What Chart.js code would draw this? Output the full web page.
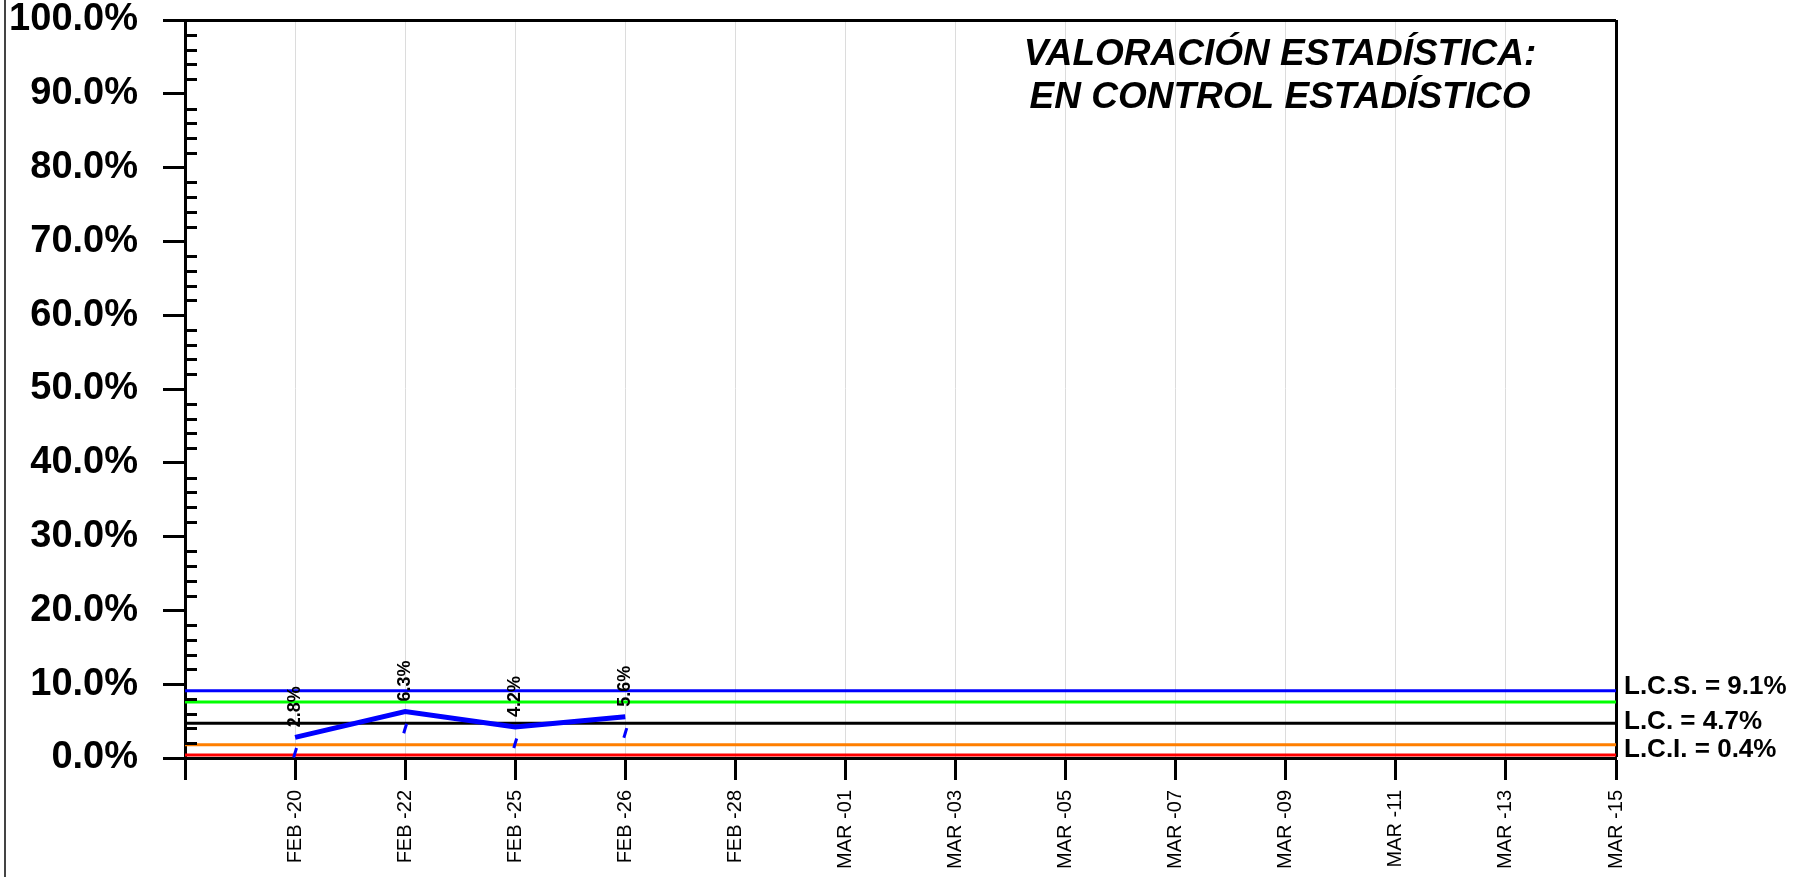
<!DOCTYPE html>
<html>
<head>
<meta charset="utf-8">
<script src="https://cdn.jsdelivr.net/npm/chart.js@4.4.1/dist/chart.umd.min.js"></script>
<style>
  html, body { margin: 0; padding: 0; background: #fff; }
  #wrap { width: 1804px; height: 877px; position: relative; }
</style>
</head>
<body>
<div id="wrap"><canvas id="chart"></canvas></div>
<script>
// Category slots on the x axis (first slot is left blank, like the original sheet)
const dates = ['', 'FEB -20', 'FEB -22', 'FEB -25', 'FEB -26', 'FEB -28', 'MAR -01', 'MAR -03',
               'MAR -05', 'MAR -07', 'MAR -09', 'MAR -11', 'MAR -13', 'MAR -15'];

// Measured percentages
const sampleDates = ['FEB -20', 'FEB -22', 'FEB -25', 'FEB -26'];
const sampleValues = [2.8, 6.3, 4.2, 5.6];
// small blue dash marks that sit under each point
const markValues = [0.7, 4.0, 2.0, 3.4];

// Control limits
const LCS = 9.1;
const upperWarn = 7.6;
const LC = 4.7;
const lowerWarn = 1.8;
const LCI = 0.4;

const yMin = 0;
const yMax = 100;
const yStep = 10;
const yMinorStep = 2;

const titleLines = ['VALORACIÓN ESTADÍSTICA:', 'EN CONTROL ESTADÍSTICO'];

const FONT = "'Liberation Sans', Arial, sans-serif";
const lastIdx = dates.length - 1;

// helper for a flat limit line across the whole axis
function limitLine(value, color) {
    return {
        type: 'line',
        data: [{ x: dates[0], y: value }, { x: dates[lastIdx], y: value }],
        borderColor: color,
        borderWidth: 3,
        pointRadius: 0,
        fill: false
    };
}

const extras = {
    id: 'extras',
    afterDraw(chart) {
        const { ctx, chartArea: a, scales: { y } } = chart;
        ctx.save();

        // page border on the far left
        ctx.strokeStyle = '#444';
        ctx.lineWidth = 2;
        ctx.beginPath();
        ctx.moveTo(5, 0);
        ctx.lineTo(5, chart.height);
        ctx.stroke();

        // minor ticks inside the y axis
        ctx.strokeStyle = '#000';
        ctx.lineWidth = 3;
        for (let v = yMin + yMinorStep; v < yMax; v += yMinorStep) {
            if (v % yStep === 0) continue;
            const py = Math.round(y.getPixelForValue(v)) + 0.5;
            ctx.beginPath();
            ctx.moveTo(a.left, py);
            ctx.lineTo(a.left + 12, py);
            ctx.stroke();
        }

        // value labels above the points, rotated
        const meta = chart.getDatasetMeta(0);
        ctx.fillStyle = '#000';
        ctx.font = `bold 18px ${FONT}`;
        ctx.textAlign = 'left';
        ctx.textBaseline = 'middle';
        meta.data.forEach((pt, i) => {
            ctx.save();
            ctx.translate(pt.x, pt.y - 10);
            ctx.rotate(-Math.PI / 2);
            ctx.fillText(sampleValues[i].toFixed(1) + '%', 0, 0);
            ctx.restore();
        });

        // limit labels on the right
        ctx.font = `bold 26px ${FONT}`;
        [[`L.C.S. = ${LCS}%`, LCS, -4], [`L.C. = ${LC}%`, LC, -1], [`L.C.I. = ${LCI}%`, LCI, -5]].forEach(([txt, v, dy]) => {
            ctx.fillText(txt, a.right + 8, y.getPixelForValue(v) + dy);
        });

        // verdict title inside the plot
        ctx.font = `italic bold 37px ${FONT}`;
        ctx.textAlign = 'center';
        ctx.fillText(titleLines[0], a.right - 336, a.top + 35);
        ctx.fillText(titleLines[1], a.right - 336, a.top + 78);

        ctx.restore();
    }
};

new Chart(document.getElementById('chart'), {
    type: 'line',
    data: {
        labels: dates,
        datasets: [
            {
                label: '% Valor',
                data: sampleDates.map((d, i) => ({ x: d, y: sampleValues[i] })),
                borderColor: '#0000ff',
                borderWidth: 5,
                pointRadius: 0,
                tension: 0
            },
            {
                label: 'marks',
                data: sampleDates.map((d, i) => ({ x: d, y: markValues[i] })),
                showLine: false,
                pointStyle: 'line',
                pointRadius: 5,
                pointRotation: -73,
                pointBorderWidth: 3,
                borderColor: '#0000ff',
                backgroundColor: '#0000ff'
            },
            limitLine(LCS, '#0000ff'),
            limitLine(upperWarn, '#00ff00'),
            limitLine(LC, '#000000'),
            limitLine(lowerWarn, '#ff7f00'),
            limitLine(LCI, '#ff0000')
        ]
    },
    options: {
        responsive: true,
        maintainAspectRatio: false,
        animation: false,
        layout: { padding: { top: 20, right: 188, left: 0, bottom: 0 } },
        plugins: {
            legend: { display: false },
            tooltip: { enabled: false }
        },
        scales: {
            x: {
                type: 'category',
                offset: false,
                afterFit: s => { s.height = 119; },
                border: { display: true, color: '#000', width: 3 },
                grid: {
                    drawTicks: true,
                    tickLength: 22,
                    tickColor: '#000',
                    tickWidth: 3,
                    color: c => c.index === lastIdx ? '#000' : (c.index === 0 ? 'rgba(0,0,0,0)' : '#dcdcdc'),
                    lineWidth: c => c.index === lastIdx ? 3 : 1
                },
                ticks: {
                    autoSkip: false,
                    maxRotation: 90,
                    minRotation: 90,
                    padding: 10,
                    color: '#000',
                    font: { family: FONT, size: 20 }
                }
            },
            y: {
                min: yMin,
                max: yMax,
                afterFit: s => { s.width = 185; s.paddingTop = 0; s.paddingBottom = 0; },
                border: { display: true, color: '#000', width: 3 },
                grid: {
                    drawTicks: true,
                    tickLength: 22,
                    tickColor: '#000',
                    lineWidth: 3,
                    color: c => (c.tick && c.tick.value === yMax) ? '#000' : 'rgba(0,0,0,0)'
                },
                ticks: {
                    stepSize: yStep,
                    padding: 25,
                    color: '#000',
                    font: { family: FONT, size: 38, weight: 'bold', lineHeight: 1 },
                    callback: v => v.toFixed(1) + '%'
                }
            }
        }
    },
    plugins: [extras]
});
</script>
</body>
</html>
